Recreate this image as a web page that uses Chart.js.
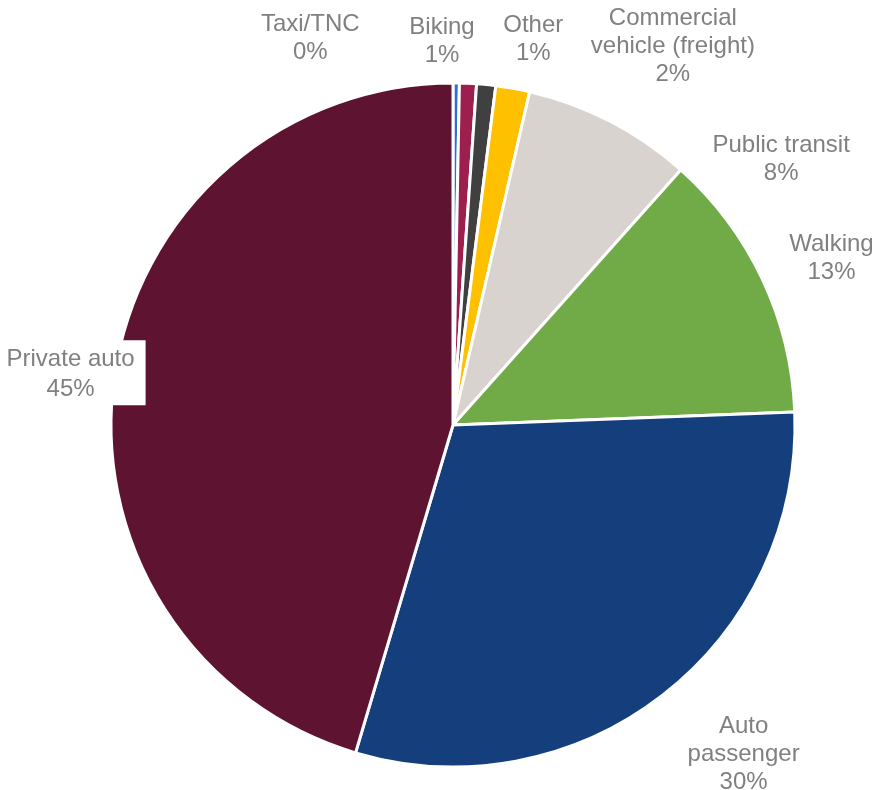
<!DOCTYPE html>
<html>
<head>
<meta charset="utf-8">
<script src="https://cdn.jsdelivr.net/npm/chart.js@4.4.1/dist/chart.umd.min.js"></script>
<style>
  html, body { margin: 0; padding: 0; background: #fff; }
  canvas { display: block; }
</style>
</head>
<body>
<canvas id="modeChart" width="875" height="790"></canvas>
<script>
// travel mode share, clockwise from 12 o'clock
const modes = ['Taxi/TNC', 'Biking', 'Other', 'Commercial\nvehicle (freight)', 'Public transit', 'Walking', 'Auto\npassenger', 'Private auto'];
const shares = [0.3, 0.8, 0.9, 1.6, 8.0, 12.8, 30.2, 45.4];
const sliceColors = ['#2e6fd3', '#9c1f4e', '#404040', '#ffc000', '#d8d3ce', '#70ab47', '#153e7c', '#5e1430'];

// where each label sits relative to the outer edge of its slice
const labelOffsets = [[-146, -47], [-26, -44], [47, -47], [160, -44], [171, 36], [69, -23], [81, 57], [-44, -3]];
const labelBoxed = [false, false, false, false, false, false, false, true];

const FONT_SIZE = 24;

const sliceLabels = {
  id: 'sliceLabels',
  afterDatasetsDraw(chart) {
    const ctx = chart.ctx;
    const arcs = chart.getDatasetMeta(0).data;
    ctx.save();
    ctx.font = FONT_SIZE + 'px "Liberation Sans", Arial, sans-serif';
    ctx.textAlign = 'center';
    ctx.textBaseline = 'alphabetic';
    arcs.forEach((arc, i) => {
      const mid = (arc.startAngle + arc.endAngle) / 2;
      const ax = arc.x + Math.cos(mid) * arc.outerRadius;
      const ay = arc.y + Math.sin(mid) * arc.outerRadius;
      const cx = ax + labelOffsets[i][0];
      const cy = ay + labelOffsets[i][1];
      const lines = modes[i].split('\n').concat(Math.round(shares[i]) + '%');
      const lh = labelBoxed[i] ? 30 : 28;
      if (labelBoxed[i]) {
        const w = Math.max(...lines.map(t => ctx.measureText(t).width)) + 22;
        const h = lines.length * lh + 5;
        ctx.fillStyle = '#ffffff';
        ctx.fillRect(cx - w / 2, cy - h / 2, w, h);
      }
      ctx.fillStyle = '#808080';
      lines.forEach((t, j) => {
        // centre the cap height on the line position
        const y = cy + (j - (lines.length - 1) / 2) * lh + FONT_SIZE * 0.36;
        ctx.fillText(t, cx, y);
      });
    });
    ctx.restore();
  }
};

new Chart(document.getElementById('modeChart'), {
  type: 'pie',
  data: {
    labels: modes,
    datasets: [{
      data: shares,
      backgroundColor: sliceColors,
      borderColor: '#ffffff',
      borderWidth: 3
    }]
  },
  options: {
    responsive: false,
    animation: false,
    radius: 342,
    layout: { padding: { left: 112, right: 81, top: 84, bottom: 24 } },
    plugins: {
      legend: { display: false },
      tooltip: { enabled: false }
    }
  },
  plugins: [sliceLabels]
});
</script>
</body>
</html>
